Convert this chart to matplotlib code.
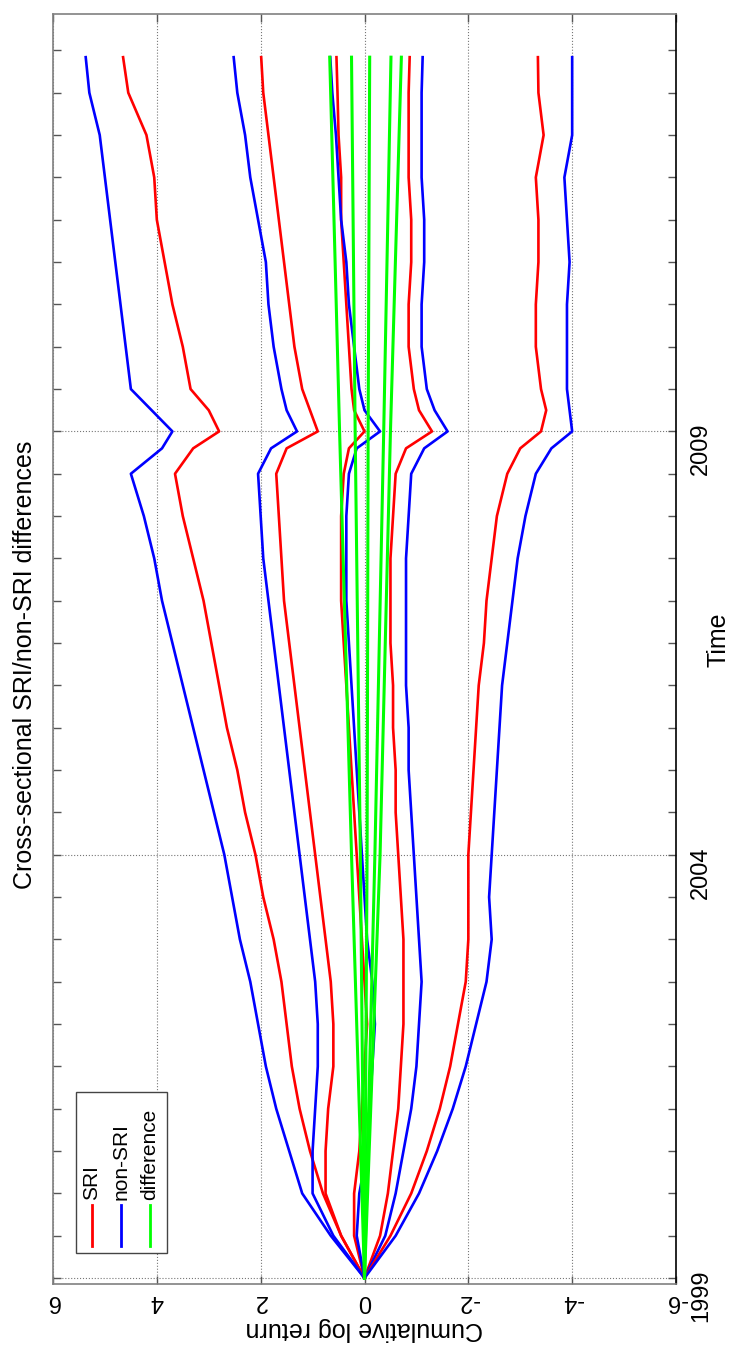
#!/usr/bin/env python
# -*- coding: utf-8 -*-

import matplotlib
matplotlib.use('Agg')
import numpy as np
from matplotlib import pyplot as plt
from matplotlib.ticker import MultipleLocator, FixedLocator
from matplotlib.patches import Rectangle
from matplotlib.lines import Line2D

plt.rcParams['font.family'] = ['Liberation Sans', 'DejaVu Sans']

# time grid (years) the curves were read at
years = [1999.0, 1999.5, 2000.0, 2000.5, 2001.0, 2001.5, 2002.0, 2002.5,
         2003.0, 2003.5, 2004.0, 2004.5, 2005.0, 2005.5, 2006.0, 2006.5,
         2007.0, 2007.5, 2008.0, 2008.5, 2008.8, 2009.0, 2009.25, 2009.5,
         2010.0, 2010.5, 2011.0, 2011.5, 2012.0, 2012.5, 2013.0, 2013.42]

# SRI portfolios (red)
sri_1 = [0, 0.45, 0.8, 1.05, 1.25, 1.4, 1.5, 1.6, 1.75, 1.95, 2.1, 2.3, 2.45, 2.65, 2.8, 2.95,
         3.1, 3.3, 3.5, 3.65, 3.3, 2.8, 3.0, 3.35, 3.5, 3.7, 3.85, 4.0, 4.05, 4.2, 4.55, 4.65]
sri_2 = [0, 0.45, 0.75, 0.75, 0.7, 0.6, 0.6, 0.65, 0.75, 0.85, 0.95, 1.05, 1.15, 1.25, 1.35, 1.45,
         1.55, 1.6, 1.65, 1.7, 1.5, 0.9, 1.05, 1.2, 1.35, 1.45, 1.55, 1.65, 1.75, 1.85, 1.95, 1.99]
sri_3 = [0, 0.2, 0.2, 0.1, 0.05, 0.0, -0.05, 0.0, 0.05, 0.1, 0.15, 0.2, 0.25, 0.3, 0.35, 0.4,
         0.45, 0.45, 0.45, 0.4, 0.3, 0.0, 0.2, 0.25, 0.3, 0.35, 0.4, 0.45, 0.45, 0.5, 0.52, 0.54]
sri_4 = [0, -0.3, -0.45, -0.55, -0.65, -0.7, -0.75, -0.75, -0.75, -0.7, -0.65, -0.6, -0.6, -0.55, -0.55, -0.5,
         -0.5, -0.5, -0.55, -0.6, -0.8, -1.3, -1.05, -0.95, -0.85, -0.85, -0.9, -0.9, -0.85, -0.85, -0.85, -0.87]
sri_5 = [0, -0.5, -0.9, -1.2, -1.45, -1.65, -1.8, -1.95, -2.0, -2.0, -2.0, -2.05, -2.1, -2.15, -2.2, -2.3,
         -2.35, -2.45, -2.55, -2.75, -3.0, -3.4, -3.5, -3.4, -3.3, -3.3, -3.35, -3.35, -3.3, -3.45, -3.35, -3.34]

# non-SRI portfolios (blue)
non_1 = [0, 0.65, 1.2, 1.45, 1.7, 1.9, 2.05, 2.2, 2.4, 2.55, 2.7, 2.9, 3.1, 3.3, 3.5, 3.7,
         3.9, 4.05, 4.25, 4.5, 3.9, 3.7, 4.1, 4.5, 4.6, 4.7, 4.8, 4.9, 5.0, 5.1, 5.3, 5.37]
non_2 = [0, 0.6, 1.0, 1.0, 0.95, 0.9, 0.9, 0.95, 1.05, 1.15, 1.25, 1.35, 1.45, 1.55, 1.65, 1.75,
         1.85, 1.95, 2.0, 2.05, 1.8, 1.3, 1.5, 1.6, 1.75, 1.85, 1.9, 2.05, 2.2, 2.3, 2.45, 2.52]
non_3 = [0, 0.15, 0.1, -0.05, -0.1, -0.15, -0.2, -0.15, -0.05, 0.0, 0.05, 0.1, 0.15, 0.2, 0.25, 0.3,
         0.35, 0.35, 0.35, 0.3, 0.15, -0.3, 0.0, 0.1, 0.2, 0.3, 0.35, 0.45, 0.5, 0.55, 0.62, 0.66]
non_4 = [0, -0.4, -0.6, -0.75, -0.9, -1.0, -1.05, -1.1, -1.05, -1.0, -0.95, -0.9, -0.85, -0.85, -0.8, -0.8,
         -0.8, -0.8, -0.85, -0.9, -1.15, -1.6, -1.35, -1.2, -1.1, -1.1, -1.15, -1.15, -1.1, -1.1, -1.1, -1.12]
non_5 = [0, -0.6, -1.05, -1.4, -1.7, -1.95, -2.15, -2.35, -2.45, -2.4, -2.45, -2.5, -2.55, -2.6, -2.65, -2.75,
         -2.85, -2.95, -3.1, -3.3, -3.6, -4.0, -3.95, -3.9, -3.9, -3.9, -3.95, -3.9, -3.85, -4.0, -4.0, -4.0]

# differences (green), smooth so read at fewer points
diff_years = [1999.0, 2004.0, 2009.0, 2013.42]
diff_1 = [0, 0.25, 0.48, 0.67]
diff_2 = [0, 0.08, 0.18, 0.25]
diff_3 = [0, -0.05, -0.07, -0.10]
diff_4 = [0, -0.2, -0.37, -0.51]
diff_5 = [0, -0.3, -0.5, -0.71]

ret_ticks = [6, 4, 2, 0, -2, -4, -6]
ret_labels = ['6', '4', '2', '0', '-2', '-4', '-6']
year_ticks = [1999, 2004, 2009]
year_labels = ['1999', '2004', '2009']

RED = '#ff0000'
BLUE = '#0000ff'
GREEN = '#00ff00'
FS = 17


def main():
    fig = plt.figure(figsize=(7.31, 13.45), dpi=100)
    ax = fig.add_axes([53 / 731., 61 / 1345., 623 / 731., 1270 / 1345.])

    for s, n in zip([sri_1, sri_2, sri_3, sri_4, sri_5], [non_1, non_2, non_3, non_4, non_5]):
        ax.plot(s, years, color=RED, lw=1.9, solid_joinstyle='round')
        ax.plot(n, years, color=BLUE, lw=1.9, solid_joinstyle='round')
    for d in [diff_1, diff_2, diff_3, diff_4, diff_5]:
        ax.plot(d, diff_years, color=GREEN, lw=2.2)

    ax.set_xlim(6, -6)
    ax.set_ylim(1998.93, 2013.93)

    ax.xaxis.set_major_locator(FixedLocator(ret_ticks))
    ax.set_xticklabels(ret_labels)
    ax.yaxis.set_major_locator(FixedLocator(year_ticks))
    ax.set_yticklabels(year_labels)
    ax.yaxis.set_minor_locator(MultipleLocator(0.5))

    ax.yaxis.tick_right()
    ax.tick_params(axis='both', which='both', direction='in', length=6, width=1,
                   color='#555555', top=True, bottom=True, left=True, right=True)
    ax.tick_params(axis='x', labelsize=FS, labelrotation=180, pad=4)
    ax.tick_params(axis='y', labelsize=FS, labelrotation=90, pad=10,
                   labelleft=False, labelright=True)

    ax.grid(True, which='major', linestyle=':', color='#777777', linewidth=0.8)

    for side in ['top', 'bottom', 'left']:
        ax.spines[side].set_color('#808080')
        ax.spines[side].set_linewidth(1.2)
    ax.spines['right'].set_color('black')
    ax.spines['right'].set_linewidth(1.2)

    ax.set_xlabel('Cumulative log return', fontsize=18, rotation=180, labelpad=4)
    fig.text(718 / 731., 1 - 640 / 1345., 'Time', rotation=90, fontsize=18,
             ha='center', va='center')
    fig.text(25 / 731., 1 - 665 / 1345., 'Cross-sectional SRI/non-SRI differences',
             rotation=90, fontsize=18, ha='center', va='center')

    # legend, drawn by hand because the whole figure is turned
    ax.add_patch(Rectangle((0.037, 0.0244), 0.146, 0.127, transform=ax.transAxes,
                           facecolor='white', edgecolor='#444444', lw=1, zorder=5))
    for xpos, col, name in [(0.0626, RED, 'SRI'), (0.109, BLUE, 'non-SRI'),
                            (0.1557, GREEN, 'difference')]:
        ax.add_line(Line2D([xpos, xpos], [0.030, 0.062], transform=ax.transAxes,
                           color=col, lw=2, zorder=6))
        ax.text(xpos, 0.066, name, transform=ax.transAxes, rotation=90,
                ha='center', va='bottom', fontsize=15, zorder=6)

    fig.savefig('out.png', dpi=100)


if __name__ == '__main__':
    main()
